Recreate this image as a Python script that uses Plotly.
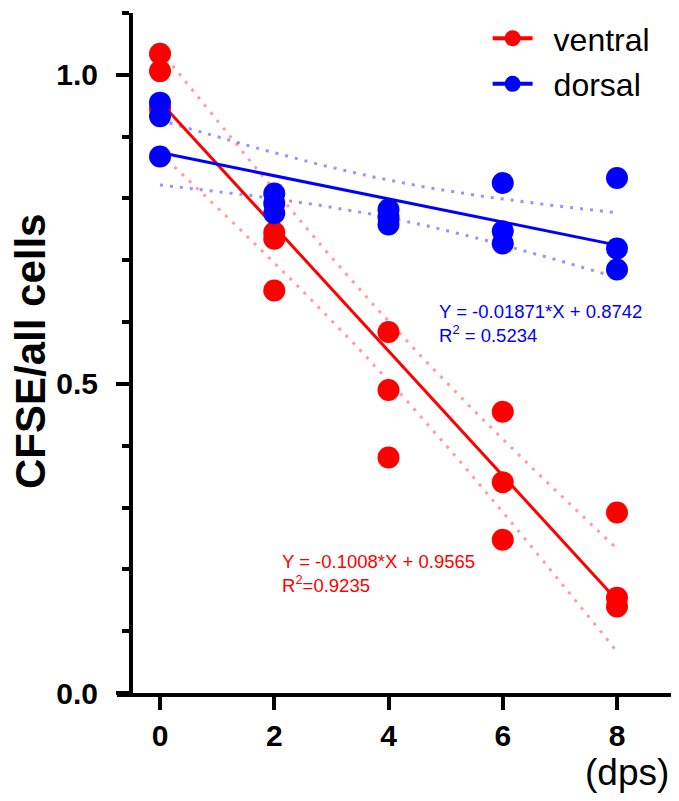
import numpy as np
import plotly.graph_objects as go

# ---- data ----
days_ventral = [0, 0, 0, 2, 2, 2, 4, 4, 4, 6, 6, 6, 8, 8, 8]
ventral = [1.034, 1.006, 0.945, 0.745, 0.735, 0.651, 0.584, 0.490, 0.381,
           0.455, 0.341, 0.248, 0.292, 0.154, 0.140]
days_dorsal = [0, 0, 0, 2, 2, 2, 4, 4, 4, 6, 6, 6, 8, 8, 8]
dorsal = [0.955, 0.933, 0.868, 0.808, 0.792, 0.776, 0.782, 0.770, 0.758,
          0.825, 0.747, 0.727, 0.833, 0.719, 0.685]

fit_ventral = [-0.1008, 0.9565]   # slope, intercept
fit_dorsal = [-0.01871, 0.8742]
r2_ventral = 0.9235
r2_dorsal = 0.5234
T95_DF13 = 2.1604

x_ticks = [0, 2, 4, 6, 8]
y_ticks = [0.0, 0.5, 1.0]
y_ticktext = ["0.0", "0.5", "1.0"]

RED = "#FF0000"
BLUE = "#0000FF"
FONT = "Arial, Liberation Sans, sans-serif"


def band(xs, ys, fit, xg):
    xs = np.asarray(xs, float)
    ys = np.asarray(ys, float)
    slope, icpt = fit
    n = len(xs)
    xbar = xs.mean()
    sxx = ((xs - xbar) ** 2).sum()
    res = ys - (icpt + slope * xs)
    s = np.sqrt((res ** 2).sum() / (n - 2))
    yfit = icpt + slope * xg
    hw = T95_DF13 * s * np.sqrt(1.0 / n + (xg - xbar) ** 2 / sxx)
    return yfit, yfit - hw, yfit + hw


xg = np.linspace(min(x_ticks), max(x_ticks), 81)
fig = go.Figure()

for xs, ys, fit, col, dotcol in [
    (days_ventral, ventral, fit_ventral, RED, "rgba(255,0,0,0.38)"),
    (days_dorsal, dorsal, fit_dorsal, BLUE, "rgba(0,0,255,0.42)"),
]:
    yfit, lo, hi = band(xs, ys, fit, xg)
    for yy in (lo, hi):
        fig.add_trace(go.Scatter(x=xg, y=yy, mode="lines", showlegend=False,
                                 hoverinfo="skip",
                                 line=dict(color=dotcol, width=3, dash="3px,7px")))

for xs, ys, fit, col in [
    (days_ventral, ventral, fit_ventral, RED),
    (days_dorsal, dorsal, fit_dorsal, BLUE),
]:
    yfit, lo, hi = band(xs, ys, fit, xg)
    fig.add_trace(go.Scatter(x=xg, y=yfit, mode="lines", showlegend=False,
                             line=dict(color=col, width=3)))

fig.add_trace(go.Scatter(x=days_ventral, y=ventral, mode="markers", showlegend=False,
                         marker=dict(color=RED, size=22)))
fig.add_trace(go.Scatter(x=days_dorsal, y=dorsal, mode="markers", showlegend=False,
                         marker=dict(color=BLUE, size=22)))

# legend entries
fig.add_trace(go.Scatter(x=[None], y=[None], mode="lines+markers", name="\u2002ventral",
                         legendgroup="v", line=dict(color=RED, width=4),
                         marker=dict(color=RED, size=22)))
fig.add_trace(go.Scatter(x=[None], y=[None], mode="lines+markers", name="\u2002dorsal",
                         legendgroup="d", line=dict(color=BLUE, width=4),
                         marker=dict(color=BLUE, size=22)))

fig.add_annotation(x=4.85, y=0.598, xref="x", yref="y", xanchor="left", yanchor="middle",
                   align="left", showarrow=False,
                   text=f"Y = {fit_dorsal[0]}*X + {fit_dorsal[1]}<br>R<sup>2</sup> = {r2_dorsal}",
                   font=dict(family=FONT, size=18.5, color=BLUE))
fig.add_annotation(x=2.10, y=0.194, xref="x", yref="y", xanchor="left", yanchor="middle",
                   align="left", showarrow=False,
                   text=f"Y = {fit_ventral[0]}*X + {fit_ventral[1]}<br>R<sup>2</sup>={r2_ventral}",
                   font=dict(family=FONT, size=18.5, color=RED))

# axis titles
fig.add_annotation(x=-0.1538, y=0.5015, xref="paper", yref="paper", textangle=-90,
                   xanchor="center", yanchor="middle", showarrow=False,
                   text="<b>CFSE/all cells</b>", font=dict(family=FONT, size=42, color="black"))
fig.add_annotation(x=0.912, y=-0.1175, xref="paper", yref="paper",
                   xanchor="center", yanchor="middle", showarrow=False,
                   text="(dps)", font=dict(family=FONT, size=37, color="black"))

fig.update_layout(
    width=671, height=793,
    margin=dict(l=109, r=3, t=5, b=108),
    paper_bgcolor="white", plot_bgcolor="white",
    font=dict(family=FONT, color="black"),
    legend=dict(x=0.663, y=1.003, xanchor="left", yanchor="top",
                font=dict(family=FONT, size=32, color="black"),
                bgcolor="rgba(0,0,0,0)", traceorder="grouped", tracegroupgap=1,
                itemwidth=40),
    xaxis=dict(range=[-0.753, 9.033], tickvals=x_ticks, ticktext=[str(v) for v in x_ticks],
               showline=True, linewidth=4, linecolor="black", showgrid=False, zeroline=False,
               ticks="outside", ticklen=13, tickwidth=4, tickcolor="black",
               ticklabelstandoff=0,
               tickfont=dict(family=FONT, size=30, color="black", weight="bold")),
    yaxis=dict(range=[0, 1.1], tickvals=y_ticks, ticktext=y_ticktext,
               anchor="free", position=0.025,
               showline=True, linewidth=4, linecolor="black", showgrid=False, zeroline=False,
               ticks="outside", ticklen=13, tickwidth=4, tickcolor="black",
               ticklabelstandoff=12,
               minor=dict(dtick=0.1, tick0=0, ticks="outside", ticklen=7, tickwidth=4,
                          tickcolor="black", showgrid=False),
               tickfont=dict(family=FONT, size=30, color="black", weight="bold")),
)

fig.write_html("out.html")
